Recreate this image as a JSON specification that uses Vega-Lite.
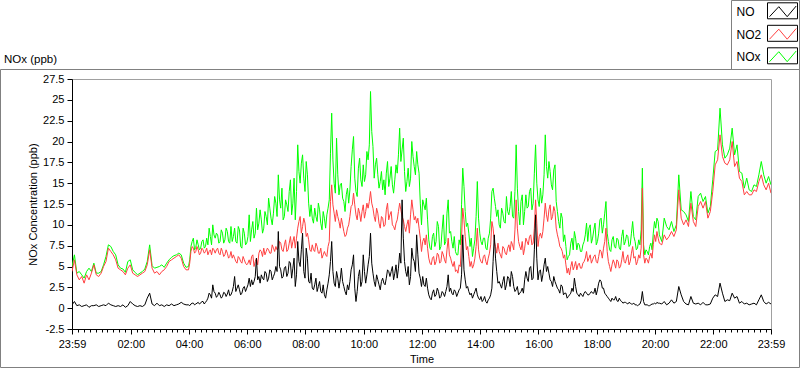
{
"$schema":"https://vega.github.io/schema/vega-lite/v6.json",
"width":699,"height":250,
"autosize":{"type":"none"},
"padding":{"left":72,"top":79,"right":29,"bottom":40},
"background":"white",
"config":{"view":{"stroke":"#a0a0a0","strokeWidth":1},"font":"Liberation Sans"},
"title":{"text":"NOx (ppb)","anchor":"start","frame":"group","dx":-68,"dy":65,"offset":0,"fontSize":11.5,"fontWeight":"normal","color":"black","font":"Liberation Sans"},
"data":{"values":[
{"m":0,"NO":0.4,"NO2":4.4,"NOx":5.0},{"m":5,"NO":0.8,"NO2":5.8,"NOx":6.4},{"m":10,"NO":0.3,"NO2":4.0,"NOx":4.2},{"m":15,"NO":0.4,"NO2":3.4,"NOx":4.4},{"m":20,"NO":0.2,"NO2":3.8,"NOx":4.0},{"m":25,"NO":0.3,"NO2":3.0,"NOx":3.6},{"m":30,"NO":0.4,"NO2":4.0,"NOx":4.4},{"m":35,"NO":0.1,"NO2":3.4,"NOx":4.8},{"m":40,"NO":0.3,"NO2":4.2,"NOx":4.4},{"m":45,"NO":0.3,"NO2":5.2,"NOx":5.4},
{"m":50,"NO":0.4,"NO2":4.0,"NOx":4.2},{"m":55,"NO":0.2,"NO2":3.8,"NOx":4.2},{"m":60,"NO":0.3,"NO2":4.2,"NOx":4.4},{"m":65,"NO":0.4,"NO2":5.0,"NOx":5.2},{"m":70,"NO":0.3,"NO2":5.6,"NOx":6.2},{"m":75,"NO":0.6,"NO2":7.2,"NOx":7.6},{"m":80,"NO":0.4,"NO2":6.8,"NOx":7.4},{"m":85,"NO":0.3,"NO2":6.4,"NOx":6.8},{"m":90,"NO":0.2,"NO2":5.8,"NOx":6.4},{"m":95,"NO":0.3,"NO2":4.8,"NOx":5.2},
{"m":100,"NO":0.2,"NO2":4.6,"NOx":4.8},{"m":105,"NO":0.4,"NO2":4.4,"NOx":4.7},{"m":110,"NO":0.1,"NO2":4.0,"NOx":4.3},{"m":115,"NO":0.3,"NO2":4.8,"NOx":5.6},{"m":120,"NO":0.8,"NO2":5.2,"NOx":5.8},{"m":125,"NO":0.5,"NO2":4.2,"NOx":4.6},{"m":130,"NO":0.3,"NO2":4.0,"NOx":4.3},{"m":135,"NO":0.2,"NO2":3.8,"NOx":4.0},{"m":140,"NO":0.3,"NO2":4.0,"NOx":4.2},{"m":145,"NO":0.2,"NO2":4.2,"NOx":4.4},
{"m":150,"NO":0.4,"NO2":4.4,"NOx":4.7},{"m":155,"NO":1.2,"NO2":5.2,"NOx":5.6},{"m":160,"NO":1.8,"NO2":7.0,"NOx":7.6},{"m":165,"NO":0.5,"NO2":4.8,"NOx":5.1},{"m":170,"NO":0.3,"NO2":4.2,"NOx":4.8},{"m":175,"NO":0.6,"NO2":4.4,"NOx":4.9},{"m":180,"NO":0.3,"NO2":4.0,"NOx":5.0},{"m":185,"NO":0.4,"NO2":4.4,"NOx":5.2},{"m":190,"NO":0.2,"NO2":4.6,"NOx":4.9},{"m":195,"NO":0.4,"NO2":5.0,"NOx":5.4},
{"m":200,"NO":0.3,"NO2":5.6,"NOx":5.8},{"m":205,"NO":0.5,"NO2":5.8,"NOx":6.1},{"m":210,"NO":0.3,"NO2":6.0,"NOx":6.3},{"m":215,"NO":0.4,"NO2":6.2,"NOx":6.4},{"m":220,"NO":0.5,"NO2":6.4,"NOx":6.6},{"m":225,"NO":0.7,"NO2":6.0,"NOx":6.4},{"m":230,"NO":0.5,"NO2":5.0,"NOx":5.4},{"m":235,"NO":0.4,"NO2":4.6,"NOx":4.9},
{"m":240,"NO":0.4,"NO2":4.6,"NOx":5.0},{"m":245,"NO":0.5,"NO2":6.8,"NOx":7.4},{"m":250,"NO":0.6,"NO2":7.2,"NOx":8.4},{"m":255,"NO":0.5,"NO2":6.8,"NOx":7.3},{"m":260,"NO":0.7,"NO2":7.0,"NOx":7.6},{"m":265,"NO":0.6,"NO2":6.6,"NOx":7.2},{"m":270,"NO":0.8,"NO2":7.0,"NOx":8.2},{"m":275,"NO":0.7,"NO2":6.8,"NOx":7.4},{"m":280,"NO":1.2,"NO2":6.4,"NOx":7.6},{"m":285,"NO":1.6,"NO2":7.0,"NOx":8.6},
{"m":290,"NO":2.8,"NO2":7.2,"NOx":10.0},{"m":295,"NO":1.8,"NO2":6.6,"NOx":8.4},{"m":300,"NO":1.5,"NO2":7.2,"NOx":8.8},{"m":305,"NO":1.6,"NO2":6.4,"NOx":8.0},{"m":310,"NO":1.4,"NO2":6.8,"NOx":9.0},{"m":315,"NO":1.8,"NO2":6.4,"NOx":8.2},{"m":320,"NO":1.7,"NO2":6.6,"NOx":9.2},{"m":325,"NO":1.5,"NO2":6.2,"NOx":7.8},{"m":330,"NO":2.0,"NO2":6.0,"NOx":8.0},{"m":335,"NO":3.8,"NO2":6.0,"NOx":9.6},
{"m":340,"NO":2.4,"NO2":5.4,"NOx":7.8},{"m":345,"NO":2.2,"NO2":6.0,"NOx":9.4},{"m":350,"NO":1.8,"NO2":5.4,"NOx":7.2},{"m":355,"NO":2.6,"NO2":5.8,"NOx":9.0},{"m":360,"NO":2.4,"NO2":5.2,"NOx":7.8},{"m":365,"NO":3.6,"NO2":5.8,"NOx":11.2},{"m":370,"NO":3.4,"NO2":6.2,"NOx":9.4},{"m":375,"NO":3.2,"NO2":5.0,"NOx":8.4},{"m":380,"NO":6.0,"NO2":6.0,"NOx":12.0},{"m":385,"NO":3.8,"NO2":6.6,"NOx":10.2},
{"m":390,"NO":4.0,"NO2":6.8,"NOx":10.6},{"m":395,"NO":3.4,"NO2":7.2,"NOx":9.6},{"m":400,"NO":4.2,"NO2":6.8,"NOx":11.0},{"m":405,"NO":3.6,"NO2":7.0,"NOx":13.2},{"m":410,"NO":4.4,"NO2":6.6,"NOx":10.8},{"m":415,"NO":3.8,"NO2":7.2,"NOx":11.4},{"m":420,"NO":5.0,"NO2":7.4,"NOx":12.6},{"m":425,"NO":9.2,"NO2":7.2,"NOx":16.0},{"m":430,"NO":4.6,"NO2":7.8,"NOx":12.0},{"m":435,"NO":3.8,"NO2":6.8,"NOx":10.6},
{"m":440,"NO":5.0,"NO2":8.2,"NOx":13.0},{"m":445,"NO":4.2,"NO2":7.0,"NOx":11.6},{"m":450,"NO":5.4,"NO2":8.6,"NOx":15.4},{"m":455,"NO":4.8,"NO2":8.0,"NOx":12.6},{"m":460,"NO":2.6,"NO2":7.2,"NOx":10.6},{"m":465,"NO":8.0,"NO2":9.6,"NOx":19.6},{"m":470,"NO":5.0,"NO2":11.0,"NOx":15.0},{"m":475,"NO":9.0,"NO2":9.8,"NOx":18.4},{"m":480,"NO":3.6,"NO2":10.2,"NOx":14.0},
{"m":485,"NO":6.0,"NO2":9.0,"NOx":16.0},{"m":490,"NO":3.0,"NO2":7.0,"NOx":11.0},{"m":495,"NO":2.4,"NO2":7.6,"NOx":10.8},{"m":500,"NO":2.8,"NO2":6.8,"NOx":12.0},{"m":505,"NO":2.0,"NO2":7.4,"NOx":10.4},{"m":510,"NO":3.2,"NO2":6.6,"NOx":11.8},{"m":515,"NO":1.8,"NO2":6.0,"NOx":9.4},{"m":520,"NO":1.6,"NO2":6.8,"NOx":10.8},{"m":525,"NO":2.2,"NO2":6.2,"NOx":11.2},{"m":530,"NO":4.0,"NO2":8.0,"NOx":13.0},
{"m":535,"NO":8.0,"NO2":14.8,"NOx":23.4},{"m":540,"NO":3.0,"NO2":11.4,"NOx":15.0},{"m":545,"NO":4.4,"NO2":11.8,"NOx":20.4},{"m":550,"NO":2.4,"NO2":10.4,"NOx":13.6},{"m":555,"NO":4.8,"NO2":10.8,"NOx":15.0},{"m":560,"NO":2.6,"NO2":9.2,"NOx":12.8},{"m":565,"NO":1.6,"NO2":8.8,"NOx":13.6},{"m":570,"NO":2.2,"NO2":10.0,"NOx":12.6},{"m":575,"NO":4.6,"NO2":12.2,"NOx":17.0},{"m":580,"NO":6.4,"NO2":13.8,"NOx":20.6},
{"m":585,"NO":0.8,"NO2":11.2,"NOx":14.0},{"m":590,"NO":3.8,"NO2":12.0,"NOx":16.8},{"m":595,"NO":2.6,"NO2":10.4,"NOx":15.4},{"m":600,"NO":6.4,"NO2":12.4,"NOx":17.2},{"m":605,"NO":3.0,"NO2":11.6,"NOx":16.0},{"m":610,"NO":5.2,"NO2":12.0,"NOx":17.8},{"m":615,"NO":9.0,"NO2":14.0,"NOx":26.0},{"m":620,"NO":4.2,"NO2":12.0,"NOx":19.4},{"m":625,"NO":2.6,"NO2":10.4,"NOx":17.2},{"m":630,"NO":3.4,"NO2":11.4,"NOx":16.0},
{"m":635,"NO":2.2,"NO2":9.6,"NOx":15.2},{"m":640,"NO":3.6,"NO2":10.8,"NOx":14.2},{"m":645,"NO":2.8,"NO2":10.0,"NOx":13.6},{"m":650,"NO":4.6,"NO2":12.6,"NOx":17.6},{"m":655,"NO":3.8,"NO2":11.2,"NOx":15.6},{"m":660,"NO":5.0,"NO2":10.0,"NOx":14.8},{"m":665,"NO":4.2,"NO2":9.4,"NOx":15.4},{"m":670,"NO":3.6,"NO2":10.6,"NOx":16.2},{"m":675,"NO":6.6,"NO2":12.6,"NOx":21.6},{"m":680,"NO":13.0,"NO2":11.0,"NOx":19.0},
{"m":685,"NO":5.6,"NO2":9.8,"NOx":16.4},{"m":690,"NO":3.8,"NO2":10.0,"NOx":15.2},{"m":695,"NO":2.8,"NO2":9.0,"NOx":14.6},{"m":700,"NO":7.2,"NO2":13.0,"NOx":20.0},{"m":705,"NO":5.6,"NO2":10.6,"NOx":17.0},{"m":710,"NO":8.8,"NO2":10.2,"NOx":18.8},{"m":715,"NO":4.2,"NO2":9.6,"NOx":16.2},{"m":720,"NO":2.6,"NO2":6.8,"NOx":10.0},{"m":725,"NO":2.8,"NO2":8.4,"NOx":12.4},
{"m":730,"NO":3.6,"NO2":8.8,"NOx":13.2},{"m":735,"NO":1.6,"NO2":6.0,"NOx":8.2},{"m":740,"NO":1.0,"NO2":5.2,"NOx":7.0},{"m":745,"NO":2.2,"NO2":6.2,"NOx":9.0},{"m":750,"NO":1.6,"NO2":5.6,"NOx":8.0},{"m":755,"NO":2.0,"NO2":6.4,"NOx":9.8},{"m":760,"NO":1.4,"NO2":5.6,"NOx":7.4},{"m":765,"NO":1.8,"NO2":6.4,"NOx":11.2},{"m":770,"NO":2.0,"NO2":5.4,"NOx":8.0},{"m":775,"NO":4.0,"NO2":8.4,"NOx":13.0},
{"m":780,"NO":2.4,"NO2":6.0,"NOx":9.2},{"m":785,"NO":1.6,"NO2":5.0,"NOx":7.2},{"m":790,"NO":2.0,"NO2":4.4,"NOx":6.8},{"m":795,"NO":1.8,"NO2":4.2,"NOx":6.4},{"m":800,"NO":2.4,"NO2":5.0,"NOx":7.6},{"m":805,"NO":8.8,"NO2":12.0,"NOx":16.8},{"m":810,"NO":3.4,"NO2":8.6,"NOx":11.6},{"m":815,"NO":2.6,"NO2":7.4,"NOx":10.2},{"m":820,"NO":1.6,"NO2":5.0,"NOx":7.4},{"m":825,"NO":1.2,"NO2":4.8,"NOx":6.2},
{"m":830,"NO":2.0,"NO2":6.0,"NOx":8.2},{"m":835,"NO":1.6,"NO2":9.6,"NOx":15.2},{"m":840,"NO":1.0,"NO2":6.0,"NOx":9.0},{"m":845,"NO":0.8,"NO2":5.4,"NOx":7.6},{"m":850,"NO":1.4,"NO2":6.4,"NOx":8.4},{"m":855,"NO":0.6,"NO2":5.2,"NOx":7.0},{"m":860,"NO":1.2,"NO2":6.6,"NOx":9.0},{"m":865,"NO":2.4,"NO2":10.4,"NOx":14.0},{"m":870,"NO":8.8,"NO2":8.0,"NOx":13.2},{"m":875,"NO":4.4,"NO2":6.6,"NOx":11.0},
{"m":880,"NO":3.2,"NO2":6.8,"NOx":10.0},{"m":885,"NO":2.4,"NO2":6.0,"NOx":12.0},{"m":890,"NO":3.8,"NO2":7.2,"NOx":10.4},{"m":895,"NO":2.8,"NO2":6.4,"NOx":13.4},{"m":900,"NO":3.6,"NO2":7.6,"NOx":11.2},{"m":905,"NO":4.4,"NO2":8.0,"NOx":14.0},{"m":910,"NO":2.6,"NO2":7.0,"NOx":10.8},{"m":915,"NO":2.2,"NO2":13.0,"NOx":19.6},{"m":920,"NO":1.6,"NO2":8.0,"NOx":11.6},{"m":925,"NO":2.0,"NO2":7.0,"NOx":12.8},
{"m":930,"NO":1.8,"NO2":6.4,"NOx":10.0},{"m":935,"NO":4.4,"NO2":8.4,"NOx":13.6},{"m":940,"NO":3.2,"NO2":7.6,"NOx":12.2},{"m":945,"NO":5.0,"NO2":8.8,"NOx":14.4},{"m":950,"NO":3.6,"NO2":7.8,"NOx":12.6},{"m":955,"NO":11.2,"NO2":13.0,"NOx":19.6},{"m":960,"NO":3.4,"NO2":7.4,"NOx":13.0},{"m":965,"NO":4.6,"NO2":9.0,"NOx":14.4},
{"m":970,"NO":4.0,"NO2":9.2,"NOx":13.6},{"m":975,"NO":6.0,"NO2":12.6,"NOx":20.8},{"m":980,"NO":5.0,"NO2":10.4,"NOx":15.6},{"m":985,"NO":3.4,"NO2":12.4,"NOx":16.4},{"m":990,"NO":2.6,"NO2":11.0,"NOx":14.2},{"m":995,"NO":3.2,"NO2":11.6,"NOx":17.2},{"m":1000,"NO":2.4,"NO2":8.8,"NOx":11.6},{"m":1005,"NO":1.8,"NO2":7.4,"NOx":9.6},{"m":1010,"NO":2.6,"NO2":6.8,"NOx":10.8},{"m":1015,"NO":1.8,"NO2":6.4,"NOx":8.8},
{"m":1020,"NO":1.2,"NO2":4.2,"NOx":5.8},{"m":1025,"NO":1.6,"NO2":4.0,"NOx":6.4},{"m":1030,"NO":2.4,"NO2":5.6,"NOx":8.4},{"m":1035,"NO":3.6,"NO2":5.0,"NOx":9.2},{"m":1040,"NO":1.8,"NO2":4.6,"NOx":7.0},{"m":1045,"NO":1.4,"NO2":5.4,"NOx":7.6},{"m":1050,"NO":1.6,"NO2":4.8,"NOx":6.8},{"m":1055,"NO":1.8,"NO2":5.6,"NOx":8.0},{"m":1060,"NO":1.8,"NO2":6.8,"NOx":10.2},{"m":1065,"NO":1.6,"NO2":6.0,"NOx":9.6},
{"m":1070,"NO":2.0,"NO2":5.4,"NOx":7.8},{"m":1075,"NO":1.8,"NO2":6.2,"NOx":9.4},{"m":1080,"NO":1.6,"NO2":5.6,"NOx":7.6},{"m":1085,"NO":3.0,"NO2":6.2,"NOx":9.0},{"m":1090,"NO":3.2,"NO2":6.8,"NOx":10.8},{"m":1095,"NO":2.4,"NO2":7.2,"NOx":10.0},{"m":1100,"NO":1.6,"NO2":9.6,"NOx":12.8},{"m":1105,"NO":1.2,"NO2":5.6,"NOx":8.0},{"m":1110,"NO":0.8,"NO2":4.4,"NOx":6.8},{"m":1115,"NO":1.0,"NO2":5.8,"NOx":8.6},
{"m":1120,"NO":1.4,"NO2":4.8,"NOx":7.2},{"m":1125,"NO":0.8,"NO2":5.6,"NOx":8.2},{"m":1130,"NO":0.9,"NO2":5.0,"NOx":7.0},{"m":1135,"NO":0.6,"NO2":6.8,"NOx":9.4},{"m":1140,"NO":0.7,"NO2":5.4,"NOx":8.0},{"m":1145,"NO":0.5,"NO2":6.4,"NOx":8.6},{"m":1150,"NO":0.6,"NO2":5.6,"NOx":7.6},{"m":1155,"NO":0.5,"NO2":7.4,"NOx":10.4},{"m":1160,"NO":0.4,"NO2":6.2,"NOx":8.0},{"m":1165,"NO":0.3,"NO2":5.6,"NOx":7.2},
{"m":1170,"NO":0.5,"NO2":6.0,"NOx":7.6},{"m":1175,"NO":2.0,"NO2":14.4,"NOx":16.8},{"m":1180,"NO":0.4,"NO2":5.4,"NOx":6.4},{"m":1185,"NO":0.4,"NO2":5.8,"NOx":6.8},{"m":1190,"NO":0.3,"NO2":6.2,"NOx":7.4},{"m":1195,"NO":0.5,"NO2":6.0,"NOx":7.0},{"m":1200,"NO":0.6,"NO2":8.8,"NOx":10.4},{"m":1205,"NO":0.7,"NO2":9.2,"NOx":10.8},{"m":1210,"NO":0.6,"NO2":7.8,"NOx":8.8},
{"m":1215,"NO":0.5,"NO2":7.6,"NOx":8.0},{"m":1220,"NO":0.8,"NO2":8.8,"NOx":10.8},{"m":1225,"NO":0.4,"NO2":8.2,"NOx":9.8},{"m":1230,"NO":0.6,"NO2":8.6,"NOx":9.4},{"m":1235,"NO":1.0,"NO2":9.2,"NOx":10.4},{"m":1240,"NO":0.6,"NO2":8.6,"NOx":9.2},{"m":1245,"NO":0.8,"NO2":9.4,"NOx":10.0},{"m":1250,"NO":2.6,"NO2":14.2,"NOx":16.0},{"m":1255,"NO":1.6,"NO2":10.8,"NOx":11.8},{"m":1260,"NO":0.8,"NO2":10.0,"NOx":11.6},
{"m":1265,"NO":0.5,"NO2":10.6,"NOx":11.2},{"m":1270,"NO":0.4,"NO2":9.8,"NOx":10.4},{"m":1275,"NO":1.4,"NO2":12.6,"NOx":14.0},{"m":1280,"NO":0.6,"NO2":10.4,"NOx":11.0},{"m":1285,"NO":0.5,"NO2":9.8,"NOx":10.6},{"m":1290,"NO":0.6,"NO2":12.2,"NOx":13.4},{"m":1295,"NO":0.4,"NO2":12.8,"NOx":13.8},{"m":1300,"NO":0.7,"NO2":12.0,"NOx":12.8},{"m":1305,"NO":0.4,"NO2":12.8,"NOx":13.4},{"m":1310,"NO":0.4,"NO2":10.8,"NOx":11.4},
{"m":1315,"NO":0.5,"NO2":11.6,"NOx":12.2},{"m":1320,"NO":1.2,"NO2":14.0,"NOx":15.4},{"m":1325,"NO":1.6,"NO2":17.2,"NOx":18.8},{"m":1330,"NO":1.4,"NO2":17.8,"NOx":19.0},{"m":1335,"NO":3.0,"NO2":20.8,"NOx":24.0},{"m":1340,"NO":1.8,"NO2":18.2,"NOx":19.6},{"m":1345,"NO":0.8,"NO2":17.4,"NOx":18.0},{"m":1350,"NO":1.0,"NO2":17.2,"NOx":18.4},{"m":1355,"NO":0.9,"NO2":17.8,"NOx":19.2},{"m":1360,"NO":1.8,"NO2":20.0,"NOx":21.6},
{"m":1365,"NO":1.2,"NO2":17.0,"NOx":18.4},{"m":1370,"NO":1.4,"NO2":17.6,"NOx":19.6},{"m":1375,"NO":0.6,"NO2":15.6,"NOx":16.4},{"m":1380,"NO":0.8,"NO2":15.2,"NOx":16.2},{"m":1385,"NO":0.5,"NO2":13.6,"NOx":14.4},{"m":1390,"NO":0.6,"NO2":14.0,"NOx":15.6},{"m":1395,"NO":0.4,"NO2":13.6,"NOx":14.2},{"m":1400,"NO":0.5,"NO2":13.6,"NOx":14.0},{"m":1405,"NO":0.6,"NO2":14.2,"NOx":14.8},{"m":1410,"NO":0.4,"NO2":14.0,"NOx":14.6},
{"m":1415,"NO":1.0,"NO2":15.2,"NOx":16.0},{"m":1420,"NO":1.6,"NO2":16.0,"NOx":17.6},{"m":1425,"NO":0.8,"NO2":14.8,"NOx":16.0},{"m":1430,"NO":0.5,"NO2":14.2,"NOx":15.0},{"m":1435,"NO":0.7,"NO2":15.0,"NOx":15.8},{"m":1440,"NO":0.5,"NO2":13.8,"NOx":14.8},
{"m":242.5,"NO":0.3,"NO2":5.4,"NOx":5.8},{"m":247.5,"NO":0.6,"NO2":7.4,"NOx":8.0},{"m":252.5,"NO":0.4,"NO2":6.6,"NOx":7.0},{"m":257.5,"NO":0.6,"NO2":7.4,"NOx":8.2},{"m":262.5,"NO":0.5,"NO2":6.4,"NOx":7.0},{"m":267.5,"NO":0.8,"NO2":7.2,"NOx":8.0},{"m":272.5,"NO":0.5,"NO2":6.6,"NOx":7.2},{"m":277.5,"NO":0.9,"NO2":7.2,"NOx":8.4},{"m":282.5,"NO":1.8,"NO2":6.8,"NOx":9.6},{"m":287.5,"NO":1.2,"NO2":6.4,"NOx":7.6},
{"m":292.5,"NO":2.0,"NO2":7.0,"NOx":8.8},{"m":297.5,"NO":1.3,"NO2":7.0,"NOx":9.0},{"m":302.5,"NO":1.9,"NO2":6.6,"NOx":7.8},{"m":307.5,"NO":1.2,"NO2":7.2,"NOx":9.4},{"m":312.5,"NO":1.9,"NO2":6.2,"NOx":7.8},{"m":317.5,"NO":1.4,"NO2":7.0,"NOx":9.6},{"m":322.5,"NO":2.2,"NO2":6.0,"NOx":8.0},{"m":327.5,"NO":1.6,"NO2":6.8,"NOx":9.8},{"m":332.5,"NO":2.6,"NO2":6.4,"NOx":8.6},{"m":337.5,"NO":2.0,"NO2":5.6,"NOx":8.0},
{"m":342.5,"NO":2.8,"NO2":6.2,"NOx":9.8},{"m":347.5,"NO":1.6,"NO2":5.6,"NOx":7.4},{"m":352.5,"NO":2.4,"NO2":6.2,"NOx":9.6},{"m":357.5,"NO":2.0,"NO2":5.4,"NOx":7.6},{"m":362.5,"NO":2.8,"NO2":5.4,"NOx":8.6},{"m":367.5,"NO":2.6,"NO2":5.2,"NOx":8.0},{"m":372.5,"NO":2.8,"NO2":6.4,"NOx":10.4},{"m":377.5,"NO":3.8,"NO2":5.6,"NOx":9.0},{"m":382.5,"NO":3.4,"NO2":5.2,"NOx":9.4},{"m":387.5,"NO":3.0,"NO2":7.0,"NOx":11.8},
{"m":392.5,"NO":3.6,"NO2":6.2,"NOx":9.0},{"m":397.5,"NO":4.4,"NO2":6.4,"NOx":11.6},{"m":402.5,"NO":3.2,"NO2":7.2,"NOx":10.0},{"m":407.5,"NO":4.6,"NO2":6.6,"NOx":12.0},{"m":412.5,"NO":3.4,"NO2":7.6,"NOx":10.0},{"m":417.5,"NO":4.2,"NO2":6.8,"NOx":13.4},{"m":422.5,"NO":4.4,"NO2":7.0,"NOx":11.0},{"m":427.5,"NO":5.0,"NO2":8.0,"NOx":13.0},{"m":432.5,"NO":3.6,"NO2":7.0,"NOx":14.4},{"m":437.5,"NO":4.8,"NO2":7.6,"NOx":11.0},
{"m":442.5,"NO":3.8,"NO2":6.8,"NOx":12.4},{"m":447.5,"NO":5.6,"NO2":7.8,"NOx":14.0},{"m":452.5,"NO":3.6,"NO2":7.2,"NOx":11.2},{"m":457.5,"NO":6.0,"NO2":8.6,"NOx":15.6},{"m":462.5,"NO":4.0,"NO2":8.4,"NOx":14.0},{"m":467.5,"NO":5.6,"NO2":10.4,"NOx":16.4},{"m":472.5,"NO":7.0,"NO2":9.0,"NOx":17.4},{"m":477.5,"NO":4.4,"NO2":10.8,"NOx":15.6},
{"m":482.5,"NO":7.2,"NO2":8.6,"NOx":17.6},{"m":487.5,"NO":3.2,"NO2":8.2,"NOx":12.6},{"m":492.5,"NO":4.2,"NO2":6.8,"NOx":12.4},{"m":497.5,"NO":2.2,"NO2":7.0,"NOx":10.2},{"m":502.5,"NO":3.6,"NO2":7.8,"NOx":11.0},{"m":507.5,"NO":2.6,"NO2":6.6,"NOx":12.6},{"m":512.5,"NO":2.0,"NO2":7.2,"NOx":10.2},{"m":517.5,"NO":2.8,"NO2":6.4,"NOx":11.6},{"m":522.5,"NO":1.2,"NO2":6.4,"NOx":9.6},{"m":527.5,"NO":3.0,"NO2":7.4,"NOx":12.0},
{"m":532.5,"NO":5.6,"NO2":12.8,"NOx":18.6},{"m":537.5,"NO":4.4,"NO2":12.4,"NOx":17.8},{"m":542.5,"NO":2.6,"NO2":10.4,"NOx":13.8},{"m":547.5,"NO":3.6,"NO2":11.0,"NOx":16.0},{"m":552.5,"NO":3.4,"NO2":9.6,"NOx":14.8},{"m":557.5,"NO":3.2,"NO2":10.0,"NOx":13.2},{"m":562.5,"NO":2.0,"NO2":8.6,"NOx":11.6},{"m":567.5,"NO":2.8,"NO2":9.6,"NOx":14.4},{"m":572.5,"NO":3.2,"NO2":11.0,"NOx":14.2},{"m":577.5,"NO":5.2,"NO2":12.4,"NOx":19.0},
{"m":582.5,"NO":2.4,"NO2":12.4,"NOx":15.6},{"m":587.5,"NO":2.0,"NO2":10.6,"NOx":13.4},{"m":592.5,"NO":4.6,"NO2":11.4,"NOx":18.0},{"m":597.5,"NO":3.2,"NO2":11.6,"NOx":14.6},{"m":602.5,"NO":4.4,"NO2":10.8,"NOx":15.2},{"m":607.5,"NO":4.0,"NO2":12.6,"NOx":18.8},{"m":612.5,"NO":6.2,"NO2":12.8,"NOx":19.6},{"m":617.5,"NO":5.4,"NO2":12.6,"NOx":21.2},{"m":622.5,"NO":3.2,"NO2":11.0,"NOx":15.6},{"m":627.5,"NO":4.0,"NO2":12.0,"NOx":18.0},
{"m":632.5,"NO":2.8,"NO2":10.2,"NOx":14.4},{"m":637.5,"NO":3.2,"NO2":11.0,"NOx":16.4},{"m":642.5,"NO":3.0,"NO2":9.8,"NOx":15.4},{"m":647.5,"NO":3.6,"NO2":11.8,"NOx":16.2},{"m":652.5,"NO":4.4,"NO2":10.6,"NOx":14.6},{"m":657.5,"NO":4.4,"NO2":11.6,"NOx":17.0},{"m":662.5,"NO":3.4,"NO2":9.8,"NOx":13.8},{"m":667.5,"NO":5.2,"NO2":10.2,"NOx":17.2},{"m":672.5,"NO":4.8,"NO2":11.6,"NOx":18.4},{"m":677.5,"NO":5.4,"NO2":11.8,"NOx":17.6},
{"m":682.5,"NO":8.4,"NO2":10.6,"NOx":20.4},{"m":687.5,"NO":4.4,"NO2":9.2,"NOx":14.0},{"m":692.5,"NO":5.0,"NO2":10.6,"NOx":16.8},{"m":697.5,"NO":3.8,"NO2":11.2,"NOx":15.6},{"m":702.5,"NO":6.0,"NO2":11.8,"NOx":18.2},{"m":707.5,"NO":4.4,"NO2":11.0,"NOx":16.0},{"m":712.5,"NO":6.4,"NO2":10.8,"NOx":17.2},{"m":717.5,"NO":3.6,"NO2":8.4,"NOx":12.6},{"m":722.5,"NO":3.8,"NO2":8.0,"NOx":13.0},{"m":727.5,"NO":2.6,"NO2":7.6,"NOx":11.8},
{"m":732.5,"NO":2.4,"NO2":7.2,"NOx":10.6},{"m":737.5,"NO":1.2,"NO2":5.4,"NOx":7.2},{"m":742.5,"NO":1.8,"NO2":6.0,"NOx":8.6},{"m":747.5,"NO":1.4,"NO2":5.2,"NOx":7.4},{"m":752.5,"NO":2.4,"NO2":6.6,"NOx":10.4},{"m":757.5,"NO":1.2,"NO2":5.4,"NOx":7.0},{"m":762.5,"NO":2.0,"NO2":6.8,"NOx":9.4},{"m":767.5,"NO":1.4,"NO2":5.8,"NOx":7.6},{"m":772.5,"NO":2.6,"NO2":7.0,"NOx":11.4},{"m":777.5,"NO":2.0,"NO2":6.4,"NOx":9.0},
{"m":782.5,"NO":1.8,"NO2":5.4,"NOx":8.0},{"m":787.5,"NO":2.2,"NO2":5.6,"NOx":8.6},{"m":792.5,"NO":1.4,"NO2":4.6,"NOx":6.4},{"m":797.5,"NO":2.2,"NO2":5.2,"NOx":8.2},{"m":802.5,"NO":4.0,"NO2":8.4,"NOx":12.4},{"m":807.5,"NO":4.6,"NO2":10.6,"NOx":14.6},{"m":812.5,"NO":2.4,"NO2":7.0,"NOx":9.8},{"m":817.5,"NO":2.0,"NO2":6.2,"NOx":9.0},{"m":822.5,"NO":1.8,"NO2":5.6,"NOx":8.4},{"m":827.5,"NO":1.6,"NO2":5.2,"NOx":7.2},
{"m":832.5,"NO":2.4,"NO2":7.4,"NOx":11.0},{"m":837.5,"NO":1.2,"NO2":7.0,"NOx":10.8},{"m":842.5,"NO":1.4,"NO2":5.6,"NOx":8.0},{"m":847.5,"NO":1.0,"NO2":6.2,"NOx":8.4},{"m":852.5,"NO":0.8,"NO2":5.6,"NOx":7.2},{"m":857.5,"NO":1.0,"NO2":6.0,"NOx":8.4},{"m":862.5,"NO":1.6,"NO2":7.6,"NOx":10.8},{"m":867.5,"NO":5.6,"NO2":9.6,"NOx":14.4},{"m":872.5,"NO":6.0,"NO2":7.4,"NOx":12.2},{"m":877.5,"NO":3.0,"NO2":7.8,"NOx":11.8},
{"m":882.5,"NO":2.8,"NO2":6.4,"NOx":9.6},{"m":887.5,"NO":3.2,"NO2":7.4,"NOx":11.4},{"m":892.5,"NO":2.2,"NO2":6.6,"NOx":10.2},{"m":897.5,"NO":3.8,"NO2":7.2,"NOx":11.6},{"m":902.5,"NO":2.6,"NO2":6.8,"NOx":12.2},{"m":907.5,"NO":3.8,"NO2":7.6,"NOx":11.0},{"m":912.5,"NO":2.0,"NO2":9.4,"NOx":14.0},{"m":917.5,"NO":2.6,"NO2":9.6,"NOx":14.4},{"m":922.5,"NO":1.8,"NO2":7.4,"NOx":10.0},{"m":927.5,"NO":2.4,"NO2":8.0,"NOx":13.6},
{"m":932.5,"NO":3.4,"NO2":7.2,"NOx":11.6},{"m":937.5,"NO":3.6,"NO2":8.0,"NOx":12.0},{"m":942.5,"NO":4.8,"NO2":8.6,"NOx":14.0},{"m":947.5,"NO":3.4,"NO2":7.6,"NOx":11.8},{"m":952.5,"NO":7.0,"NO2":9.6,"NOx":16.2},{"m":957.5,"NO":6.0,"NO2":10.2,"NOx":15.0},{"m":962.5,"NO":4.4,"NO2":8.6,"NOx":12.2},{"m":967.5,"NO":3.2,"NO2":8.4,"NOx":12.6},
{"m":972.5,"NO":5.2,"NO2":10.8,"NOx":16.0},{"m":977.5,"NO":4.4,"NO2":11.2,"NOx":17.0},{"m":982.5,"NO":4.2,"NO2":11.8,"NOx":17.6},{"m":987.5,"NO":3.2,"NO2":10.6,"NOx":14.8},{"m":992.5,"NO":3.8,"NO2":12.2,"NOx":16.6},{"m":997.5,"NO":2.8,"NO2":9.6,"NOx":12.8},{"m":1002.5,"NO":2.2,"NO2":8.2,"NOx":10.4},{"m":1007.5,"NO":2.8,"NO2":7.2,"NOx":11.4},{"m":1012.5,"NO":1.6,"NO2":6.0,"NOx":8.0},{"m":1017.5,"NO":1.8,"NO2":5.2,"NOx":7.4},
{"m":1022.5,"NO":1.4,"NO2":4.8,"NOx":6.2},{"m":1027.5,"NO":1.8,"NO2":5.0,"NOx":7.8},{"m":1032.5,"NO":2.0,"NO2":4.6,"NOx":7.0},{"m":1037.5,"NO":2.6,"NO2":5.6,"NOx":8.4},{"m":1042.5,"NO":1.6,"NO2":5.2,"NOx":7.8},{"m":1047.5,"NO":1.8,"NO2":4.8,"NOx":6.8},{"m":1052.5,"NO":1.4,"NO2":5.4,"NOx":7.6},{"m":1057.5,"NO":2.0,"NO2":6.0,"NOx":8.8},{"m":1062.5,"NO":1.6,"NO2":5.6,"NOx":8.0},{"m":1067.5,"NO":1.8,"NO2":6.4,"NOx":10.0},
{"m":1072.5,"NO":1.8,"NO2":5.8,"NOx":8.4},{"m":1077.5,"NO":2.4,"NO2":6.4,"NOx":10.2},{"m":1082.5,"NO":2.2,"NO2":5.4,"NOx":8.0},{"m":1087.5,"NO":3.4,"NO2":7.0,"NOx":10.6},{"m":1092.5,"NO":2.4,"NO2":6.0,"NOx":9.0},{"m":1097.5,"NO":1.8,"NO2":8.0,"NOx":11.4},{"m":1102.5,"NO":1.4,"NO2":6.8,"NOx":9.0},{"m":1107.5,"NO":1.0,"NO2":5.0,"NOx":7.0},{"m":1112.5,"NO":1.2,"NO2":5.2,"NOx":8.2},{"m":1117.5,"NO":1.0,"NO2":5.4,"NOx":7.4},
{"m":1122.5,"NO":0.9,"NO2":5.8,"NOx":8.4},{"m":1127.5,"NO":1.2,"NO2":4.8,"NOx":7.2},{"m":1132.5,"NO":0.8,"NO2":5.8,"NOx":8.6},{"m":1137.5,"NO":0.7,"NO2":5.6,"NOx":7.6},{"m":1142.5,"NO":0.6,"NO2":6.0,"NOx":8.8},{"m":1147.5,"NO":0.7,"NO2":5.2,"NOx":7.4},{"m":1152.5,"NO":0.5,"NO2":6.6,"NOx":9.0},{"m":1157.5,"NO":0.6,"NO2":6.0,"NOx":8.6},{"m":1162.5,"NO":0.4,"NO2":5.2,"NOx":7.0},{"m":1167.5,"NO":0.4,"NO2":6.4,"NOx":8.2},
{"m":1172.5,"NO":0.9,"NO2":7.2,"NOx":9.4},{"m":1177.5,"NO":0.8,"NO2":6.4,"NOx":7.6},{"m":1182.5,"NO":0.4,"NO2":6.0,"NOx":7.0},{"m":1187.5,"NO":0.3,"NO2":5.4,"NOx":6.4},{"m":1192.5,"NO":0.4,"NO2":6.6,"NOx":7.8},{"m":1197.5,"NO":0.5,"NO2":7.6,"NOx":9.0},{"m":1202.5,"NO":0.5,"NO2":8.0,"NOx":9.6},{"m":1207.5,"NO":0.6,"NO2":8.4,"NOx":10.4}
]},
"resolve":{"axis":{"x":"independent"}},
"layer":[
{"encoding":{
  "x":{"field":"m","type":"quantitative","scale":{"domain":[0,1440],"nice":false,"zero":false},
    "axis":{"orient":"bottom","values":[0,121,241,361,481,601,721,841,961,1081,1201,1321,1440],"labelExpr":"timeFormat(datetime(2024,0,1,23,59+datum.value),'%H:%M')","grid":false,"domainColor":"black","tickColor":"black","tickSize":5,"labelPadding":4,"labelFont":"Liberation Sans","labelFontSize":11,"labelColor":"black","labelFlush":false,"labelOverlap":false,"title":"Time","titleFont":"Liberation Sans","titleFontSize":11,"titleFontWeight":"normal","titleColor":"black","titlePadding":4}},
  "y":{"field":"NOx","type":"quantitative","scale":{"domain":[-2.5,27.5],"nice":false,"zero":false},
     "axis":{"orient":"left","values":[-2.5,0,2.5,5,7.5,10,12.5,15,17.5,20,22.5,25,27.5],"labelExpr":"replace(format(datum.value,'.1~f'),'\u2212','-')","grid":false,"domainColor":"black","tickColor":"black","tickSize":5,"labelPadding":3,"labelFont":"Liberation Sans","labelFontSize":11,"labelColor":"black","title":"NOx Concentration (ppb)","titleFont":"Liberation Sans","titleFontSize":11,"titleFontWeight":"normal","titleColor":"black","titlePadding":4}}},
 "layer":[
  {"mark":{"type":"line","strokeWidth":1,"clip":true},
   "encoding":{
    "color":{"datum":"NOx","scale":{"domain":["NO","NO2","NOx"],"range":["#000000","#ff4040","#00ff00"]},
     "legend":{"orient":"none","legendX":652.5,"legendY":-72.7,"title":null,"padding":0,"symbolType":"M37,-9.5M67,6.5M39,4.4L48.3,-5.6L56.7,4.4L65.7,-6.3","symbolSize":4,"symbolStrokeWidth":1,"symbolFillColor":"transparent","symbolOpacity":1,"labelFont":"Liberation Sans","labelFontSize":12,"labelColor":"black","labelOffset":0,"rowPadding":1.5}}}},
  {"mark":{"type":"line","strokeWidth":1,"clip":true},
   "encoding":{"y":{"field":"NO2","type":"quantitative"},"color":{"datum":"NO2"}}},
  {"mark":{"type":"line","strokeWidth":1,"clip":true},
   "encoding":{"y":{"field":"NO","type":"quantitative"},"color":{"datum":"NO"}}}
 ]},
{"mark":{"type":"point","size":0,"color":"black","filled":false},
 "encoding":{
  "x":{"field":"m","type":"quantitative","axis":null},
  "opacity":{"datum":"a","scale":{"domain":["a","b","c"],"range":[1,1,1]},
     "legend":{"orient":"none","legendX":652.5,"legendY":-72.7,"title":null,"padding":0,"symbolType":"M37,-9.5H67V6.5H37Z","symbolSize":4,"symbolStrokeWidth":1,"symbolStrokeColor":"black","symbolFillColor":"transparent","symbolOpacity":1,"labelFont":"Liberation Sans","labelFontSize":12,"labelExpr":"' '","labelOpacity":0,"labelColor":"white","labelOffset":0,"rowPadding":1.5}}}},
{"mark":{"type":"point","filled":true,"size":0,"opacity":0},
 "encoding":{
  "x":{"field":"m","type":"quantitative",
    "axis":{"orient":"bottom","values":[13,25,37,49,61,73,85,97,109,133,145,157,169,181,193,205,217,229,253,265,277,289,301,313,325,337,349,373,385,397,409,421,433,445,457,469,493,505,517,529,541,553,565,577,589,613,625,637,649,661,673,685,697,709,733,745,757,769,781,793,805,817,829,853,865,877,889,901,913,925,937,949,973,985,997,1009,1021,1033,1045,1057,1069,1093,1105,1117,1129,1141,1153,1165,1177,1189,1213,1225,1237,1249,1261,1273,1285,1297,1309,1333,1345,1357,1369,1381,1393,1405,1417,1429],"domain":false,"labels":false,"grid":false,"tickColor":"black","tickSize":3,"title":null}},
  "fill":{"datum":0,"type":"quantitative","scale":{"domain":[0,1],"range":["rgba(255,255,255,0)","rgba(255,255,255,0)"]},
    "legend":{"orient":"none","legendX":-71.5,"legendY":-9.5,"direction":"horizontal","gradientLength":799,"gradientThickness":298,"gradientStrokeColor":"#808080","gradientStrokeWidth":1,"title":null,"padding":0,"labelOpacity":0,"labelExpr":"''"}},
  "stroke":{"datum":0,"type":"quantitative","scale":{"domain":[0,2],"range":["rgba(255,255,255,0)","rgba(255,255,255,0)"]},
    "legend":{"orient":"none","legendX":659.5,"legendY":-78.5,"direction":"horizontal","gradientLength":68,"gradientThickness":69,"gradientStrokeColor":"#808080","gradientStrokeWidth":1,"title":null,"padding":0,"labelOpacity":0,"labelExpr":"''"}}}}
]
}
